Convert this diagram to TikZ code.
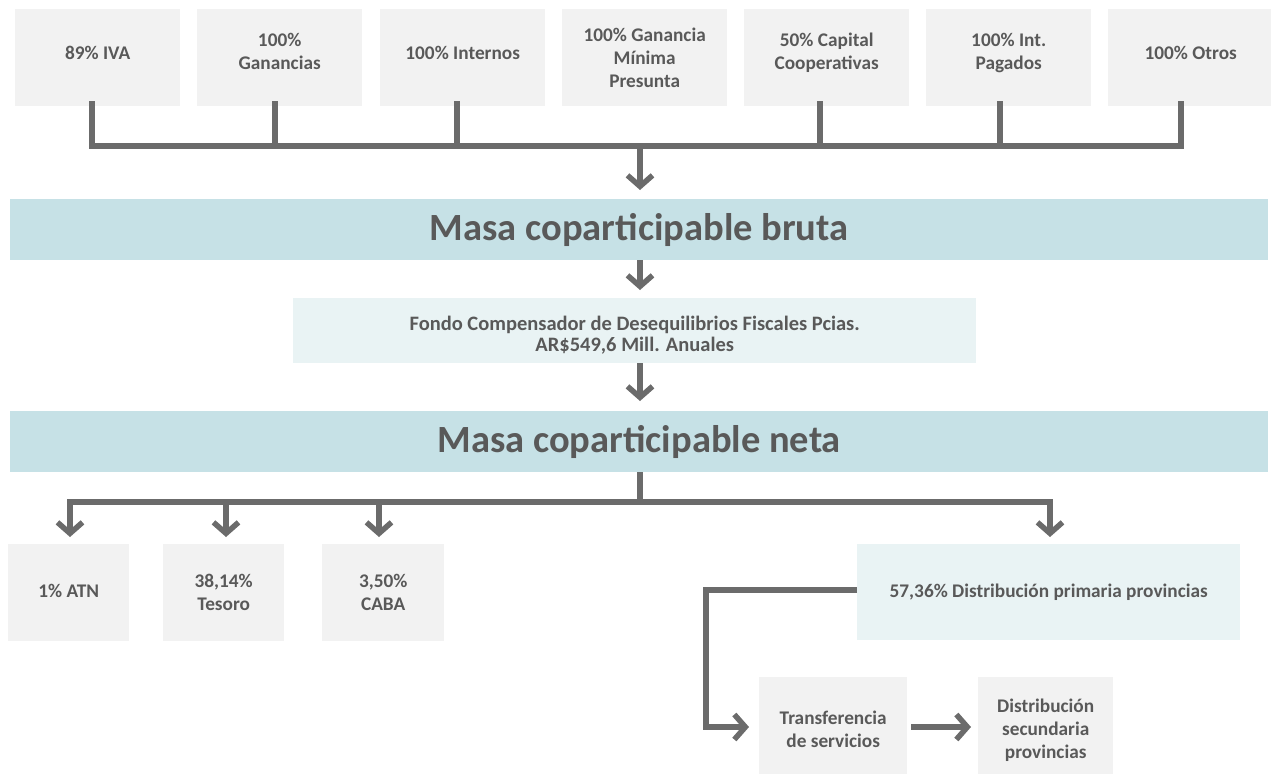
\documentclass[tikz,border=0pt]{standalone}
\usepackage{fontspec}
\setmainfont{Carlito}
\usetikzlibrary{arrows.meta}
\definecolor{boxgray}{HTML}{F2F2F2}
\definecolor{bandblue}{HTML}{C6E1E6}
\definecolor{paleblue}{HTML}{E9F3F4}
\definecolor{txt}{HTML}{595959}
\definecolor{lnc}{HTML}{6B6B6B}
\begin{document}
\begin{tikzpicture}[x=1pt,y=-1pt,
  src/.style={fill=boxgray,minimum width=165pt,minimum height=97pt,inner sep=0pt,anchor=north west},
  lbl/.style={font=\fontsize{19.3}{23}\selectfont\bfseries,text=txt,align=center,inner sep=0pt},
  band/.style={fill=bandblue,minimum width=1258pt,minimum height=61pt,inner sep=0pt,
    font=\fontsize{38.5}{42}\selectfont\bfseries,text=txt,anchor=north west},
  pale/.style={fill=paleblue,inner sep=0pt,anchor=north west},
  conn/.style={draw=lnc,line width=6pt},
  arr/.style={conn,-{Straight Barb[length=11pt,width=25pt,line width=5.5pt]}}
]
\useasboundingbox (0,0) rectangle (1271,780);
% top source boxes
\node[src] (b1) at (15,9) {};
\node[src] (b2) at (197,9) {};
\node[src] (b3) at (380,9) {};
\node[src] (b4) at (562,9) {};
\node[src] (b5) at (744,9) {};
\node[src] (b6) at (926,9) {};
\node[src] (b7) at (1108,9) {};
\node[lbl] (t1) at ([yshift=5pt]b1.center) {89\% IVA};
\node[lbl] (t2) at ([yshift=6pt]b2.center) {100\%\\Ganancias};
\node[lbl] (t3) at ([yshift=5pt]b3.center) {100\% Internos};
\node[lbl] (t4) at (b4.center) {100\% Ganancia\\Mínima\\Presunta};
\node[lbl] (t5) at ([yshift=5pt]b5.center) {50\% Capital\\Cooperativas};
\node[lbl] (t6) at ([yshift=5pt]b6.center) {100\% Int.\\Pagados};
\node[lbl] (t7) at ([yshift=5pt]b7.center) {100\% Otros};
\coordinate (j1) at (92,146);
\coordinate (j7) at (1181,146);
\coordinate (jc) at (640,146);
\draw[conn] (92,101) -- (j1) -- (j7) -- (1181,101);
\draw[conn] (275,101) -- (275,146);
\draw[conn] (457,101) -- (457,146);
\draw[conn] (820,101) -- (820,146);
\draw[conn] (1000,101) -- (1000,146);
% bands
\node[band] (bruta) at (10,199) {Masa coparticipable bruta};
\node[pale,minimum width=683pt,minimum height=65pt] (fondo) at (293,298) {};
\node[lbl,font=\fontsize{20.5}{21}\selectfont\bfseries] (fondot) at ([yshift=-4pt]fondo.center)
  {Fondo Compensador de Desequilibrios Fiscales Pcias.\\AR\$549,6 Mill. Anuales};
\node[band] (neta) at (10,411) {Masa coparticipable neta};
\draw[arr] (jc) -- (640,190);
\draw[arr] (640,260) -- (640,290);
\draw[arr] (640,363) -- (640,401);
% bottom boxes
\node[src,minimum width=121pt] (atn) at (8,544) {};
\node[src,minimum width=121pt] (tes) at (163,544) {};
\node[src,minimum width=122pt] (caba) at (322,544) {};
\node[pale,minimum width=383pt,minimum height=96pt] (prim) at (857,544) {};
\node[src,minimum width=148pt] (trans) at (759,677) {};
\node[src,minimum width=135pt] (sec) at (978,677) {};
\node[lbl] (atnt) at ([yshift=2pt]atn.center) {1\% ATN};
\node[lbl] (test) at (tes.center) {38,14\%\\Tesoro};
\node[lbl] (cabat) at (caba.center) {3,50\%\\CABA};
\node[lbl] (primt) at (prim.center) {57,36\% Distribución primaria provincias};
\node[lbl] (transt) at ([yshift=-4pt]trans.center) {Transferencia\\de servicios};
\node[lbl] (sect) at ([yshift=-5pt]sec.center) {Distribución\\secundaria\\provincias};
\coordinate (s) at (640,502);
\draw[conn] (neta.south -| s) -- (s);
\draw[arr] (s) -| (70,537);
\draw[arr] (226,502) -- (226,537);
\draw[arr] (379,502) -- (379,537);
\draw[arr] (s) -| (1050,537);
\coordinate (k) at (706,590);
\draw[arr] (prim.west |- k) -- (k) |- (749,727);
\draw[arr] (911,727) -- (971,727);
\end{tikzpicture}
\end{document}
